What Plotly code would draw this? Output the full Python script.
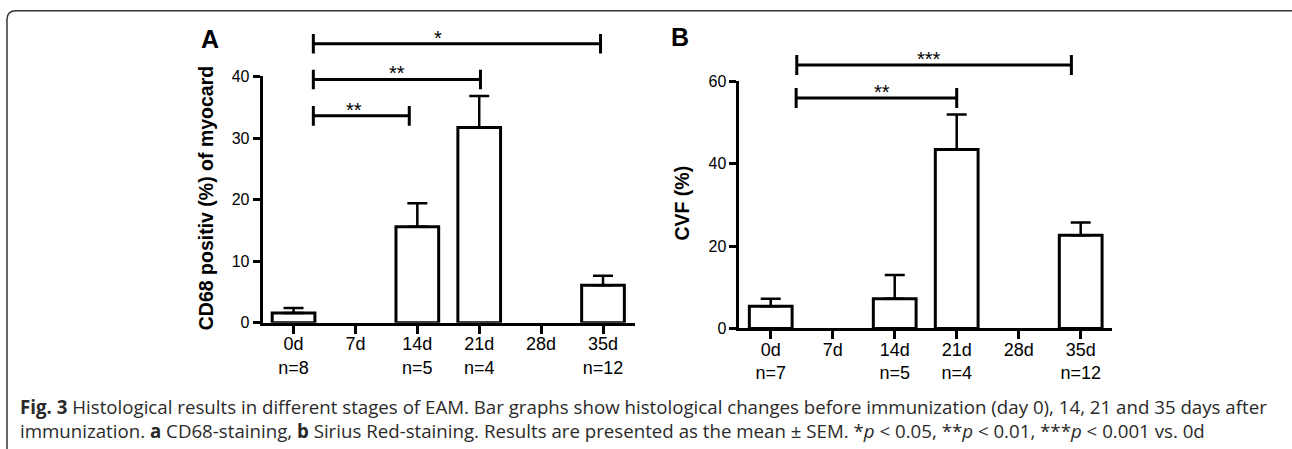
import plotly.graph_objects as go

W, H = 1292, 449

# ---------------- data ----------------
categories = ["0d", "7d", "14d", "21d", "28d", "35d"]
n_a = ["n=8", "", "n=5", "n=4", "", "n=12"]
n_b = ["n=7", "", "n=5", "n=4", "", "n=12"]

cd68_mean = [1.6, None, 15.6, 31.7, None, 6.1]
cd68_sem = [0.8, None, 3.8, 5.1, None, 1.55]

cvf_mean = [5.4, None, 7.2, 43.4, None, 22.6]
cvf_sem = [1.8, None, 5.8, 8.5, None, 3.1]

# significance brackets: (start, end, height, label, label_x, label_y)
sig_a = [
    (0.32, 4.96, 45.3, "*", 2.34, 46.3),
    (0.32, 3.02, 39.5, "**", 1.67, 40.5),
    (0.32, 1.87, 33.6, "**", 0.98, 34.5),
]
sig_b = [
    (0.42, 4.85, 63.9, "***", 2.55, 65.4),
    (0.41, 3.00, 55.9, "**", 1.80, 57.3),
]

# ---------------- geometry helpers (target pixels -> paper) ----------------
def px(x):
    xp = 262.7 + (x - 262.7) * 1.008
    return xp / W

def py(y):
    yp = (y - 7.35) / 0.9656
    return 1 - yp / H

FONT = "Liberation Sans, Arial, sans-serif"
xpos = list(range(len(categories)))

fig = go.Figure()

panels = [
    dict(mean=cd68_mean, sem=cd68_sem, n=n_a, sig=sig_a, xa="x", ya="y", ya2="y3",
         left=262.7, right=631.7, c0=293.3, step=61.4, base=323.3, ytop_px=76.0, ytop=40,
         dtick=10, cap=1.6, title="CD68 positiv (%) of myocard", tx=206.7, ty=198,
         label="A", lx=210, ly=38),
    dict(mean=cvf_mean, sem=cvf_sem, n=n_b, sig=sig_b, xa="x2", ya="y2", ya2="y4",
         left=735.7, right=1105.0, c0=766.7, step=61.5, base=329.0, ytop_px=80.7, ytop=60,
         dtick=20, cap=2.4, title="CVF (%)", tx=678.3, ty=203,
         label="B", lx=676.7, ly=36.7),
]

layout_axes = {}
annotations = []
for i, p in enumerate(panels):
    # bars
    fig.add_trace(go.Bar(
        x=xpos, y=p["mean"], xaxis=p["xa"], yaxis=p["ya"], width=0.69,
        marker=dict(color="white", line=dict(color="black", width=3)),
        error_y=dict(type="data", symmetric=False, array=p["sem"],
                     arrayminus=[0 if v is not None else None for v in p["sem"]],
                     color="black", thickness=2.5, width=10),
        showlegend=False, hoverinfo="skip",
    ))
    # significance brackets
    for (s, e, h, lab, lxv, lyv) in p["sig"]:
        c = p["cap"]
        fig.add_trace(go.Scatter(
            x=[s, s, None, s, e, None, e, e],
            y=[h - c, h + c, None, h, h, None, h - c, h + c],
            xaxis=p["xa"], yaxis=p["ya2"], mode="lines",
            line=dict(color="black", width=3), showlegend=False, hoverinfo="skip",
        ))
        annotations.append(dict(
            x=lxv, y=lyv, xref=p["xa"], yref=p["ya2"], text=lab, showarrow=False,
            font=dict(family=FONT, size=20, color="black"), xanchor="center", yanchor="middle",
        ))

    xr = [(p["left"] - p["c0"]) / p["step"], (p["right"] - p["c0"]) / p["step"]]
    full_top = 14.0
    yr2 = p["ytop"] * (p["base"] - full_top) / (p["base"] - p["ytop_px"])

    xkey = "xaxis" if i == 0 else "xaxis2"
    ykey = "yaxis" if i == 0 else "yaxis2"
    y2key = "yaxis3" if i == 0 else "yaxis4"

    layout_axes[xkey] = dict(
        domain=[px(p["left"]), px(p["right"])], range=xr, anchor=p["ya"],
        tickmode="array", tickvals=xpos,
        ticktext=[f"{c}<br>{n}" if n else c for c, n in zip(categories, p["n"])],
        showline=True, linecolor="black", linewidth=3, ticks="outside",
        ticklen=8, tickwidth=3, tickcolor="black", showgrid=False, zeroline=False,
        ticklabelstandoff=-5,
        tickfont=dict(family=FONT, size=18, color="black"), fixedrange=True,
    )
    layout_axes[ykey] = dict(
        domain=[py(p["base"]), py(p["ytop_px"])], range=[0, p["ytop"]], anchor=p["xa"],
        tickmode="linear", tick0=0, dtick=p["dtick"],
        showline=True, linecolor="black", linewidth=3, ticks="outside",
        ticklen=7, tickwidth=3, tickcolor="black", showgrid=False, zeroline=False,
        tickfont=dict(family=FONT, size=16, color="black"), fixedrange=True,
    )
    layout_axes[y2key] = dict(
        domain=[py(p["base"]), py(full_top)], range=[0, yr2], anchor=p["xa"],
        visible=False, showgrid=False, zeroline=False, fixedrange=True,
    )

    annotations.append(dict(
        x=px(p["tx"]), y=py(p["ty"]), xref="paper", yref="paper", text=f"<b>{p['title']}</b>",
        textangle=-90, showarrow=False, xanchor="center", yanchor="middle",
        font=dict(family=FONT, size=19.5, color="black"),
    ))
    annotations.append(dict(
        x=px(p["lx"]), y=py(p["ly"]), xref="paper", yref="paper", text=f"<b>{p['label']}</b>",
        showarrow=False, xanchor="center", yanchor="middle",
        font=dict(family=FONT, size=25, color="black"),
    ))

# caption
CAP_FONT = "Open Sans, Noto Sans, sans-serif"
caption1 = ("<b>Fig. 3</b> Histological results in different stages of EAM. Bar graphs show histological "
            "changes before immunization (day 0), 14, 21 and 35 days after")
caption2 = ("immunization. <b>a</b> CD68-staining, <b>b</b> Sirius Red-staining. Results are presented as the "
            "mean ± SEM. *<i>p</i> &lt; 0.05, **<i>p</i> &lt; 0.01, ***<i>p</i> &lt; 0.001 vs. 0d")
for txt, yy in [(caption1, 407), (caption2, 431)]:
    annotations.append(dict(
        x=px(20), y=py(yy), xref="paper", yref="paper", text=txt, showarrow=False,
        xanchor="left", yanchor="middle", align="left",
        font=dict(family=CAP_FONT, size=18.7, color="#2a2a2a"),
    ))

# rounded frame
r = 9
path = (f"M {px(9)},{py(460)} L {px(9)},{py(10 + r)} Q {px(9)},{py(10)} {px(9 + r)},{py(10)} "
        f"L {px(1284)},{py(10)} Q {px(1291)},{py(10)} {px(1291)},{py(10 + r)} L {px(1291)},{py(460)}")

fig.update_layout(
    width=W, height=H, margin=dict(l=0, r=0, t=0, b=0),
    paper_bgcolor="white", plot_bgcolor="rgba(0,0,0,0)",
    annotations=annotations, barmode="overlay",
    shapes=[dict(type="path", path=path, xref="paper", yref="paper",
                 line=dict(color="#333333", width=1.5))],
    **layout_axes,
)

fig.write_html(
    "out.html",
    config={"displayModeBar": False},
    post_script="document.body.style.margin='0';document.body.style.overflow='hidden';",
)
